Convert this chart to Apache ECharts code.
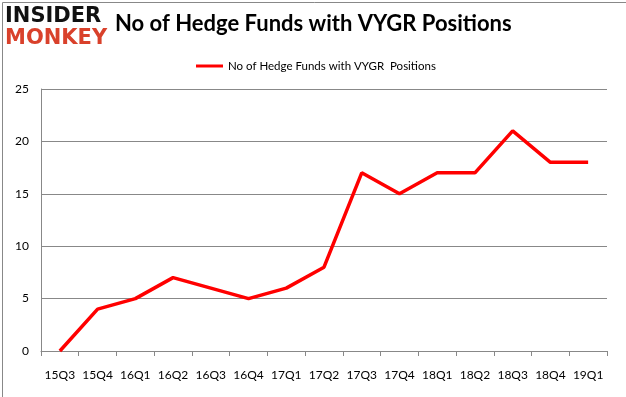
<!DOCTYPE html>
<html>
<head>
    <meta charset="UTF-8">
    <title>VYGR</title>
    <script src="https://cdn.jsdelivr.net/npm/echarts@6/dist/echarts.min.js"></script>
    <style>
        html, body { margin: 0; padding: 0; background: #fff; }
        #main { width: 626px; height: 397px; }
    </style>
</head>
<body>
    <div id="main"></div>
    <script>
        var quarters = ['15Q3', '15Q4', '16Q1', '16Q2', '16Q3', '16Q4', '17Q1', '17Q2', '17Q3', '17Q4', '18Q1', '18Q2', '18Q3', '18Q4', '19Q1'];
        var fundCounts = [0, 4, 5, 7, 6, 5, 6, 8, 17, 15, 17, 17, 21, 18, 18];
        var seriesName = 'No of Hedge Funds with VYGR  Positions';

        var chart = echarts.init(document.getElementById('main'), null, {renderer: 'canvas'});
        var font = 'Lato, "Open Sans", sans-serif';

        chart.setOption({
            animation: false,
            graphic: [
                {type: 'rect', left: 0, top: 0, shape: {width: 625, height: 396},
                 style: {fill: 'none', stroke: '#888', lineWidth: 1}},
                {type: 'text', left: 5, top: 6, style: {text: 'INSIDER', fill: '#111', font: 'bold 21px "DejaVu Sans", sans-serif'}},
                {type: 'text', left: 5, top: 28, style: {text: 'MONKEY', fill: '#d9412b', font: 'bold 21px "DejaVu Sans", sans-serif'}},
                {type: 'text', left: 115, top: 13, style: {text: 'No of Hedge Funds with VYGR Positions', fill: '#000', font: 'bold 22px ' + font}}
            ],
            legend: {
                top: 55, left: 191,
                itemWidth: 27, itemHeight: 3, itemGap: 4,
                icon: 'rect',
                textStyle: {fontFamily: font, fontSize: 11.5, color: '#000'},
                data: [seriesName]
            },
            grid: {left: 41, right: 19, top: 89, bottom: 46},
            xAxis: {
                type: 'category',
                data: quarters,
                boundaryGap: true,
                axisLine: {lineStyle: {color: '#888'}},
                axisTick: {show: true, length: 5, lineStyle: {color: '#888'}},
                axisLabel: {fontFamily: font, fontSize: 12, color: '#000', margin: 18, interval: 0}
            },
            yAxis: {
                type: 'value',
                min: 0, max: 25, interval: 5,
                axisLine: {show: true, lineStyle: {color: '#888'}},
                axisTick: {show: false},
                splitLine: {lineStyle: {color: '#888'}},
                axisLabel: {fontFamily: font, fontSize: 12, color: '#000', margin: 12}
            },
            series: [{
                name: seriesName,
                type: 'line',
                data: fundCounts,
                symbol: 'none',
                lineStyle: {color: '#ff0000', width: 3.5},
                itemStyle: {color: '#ff0000'}
            }]
        });
    </script>
</body>
</html>
